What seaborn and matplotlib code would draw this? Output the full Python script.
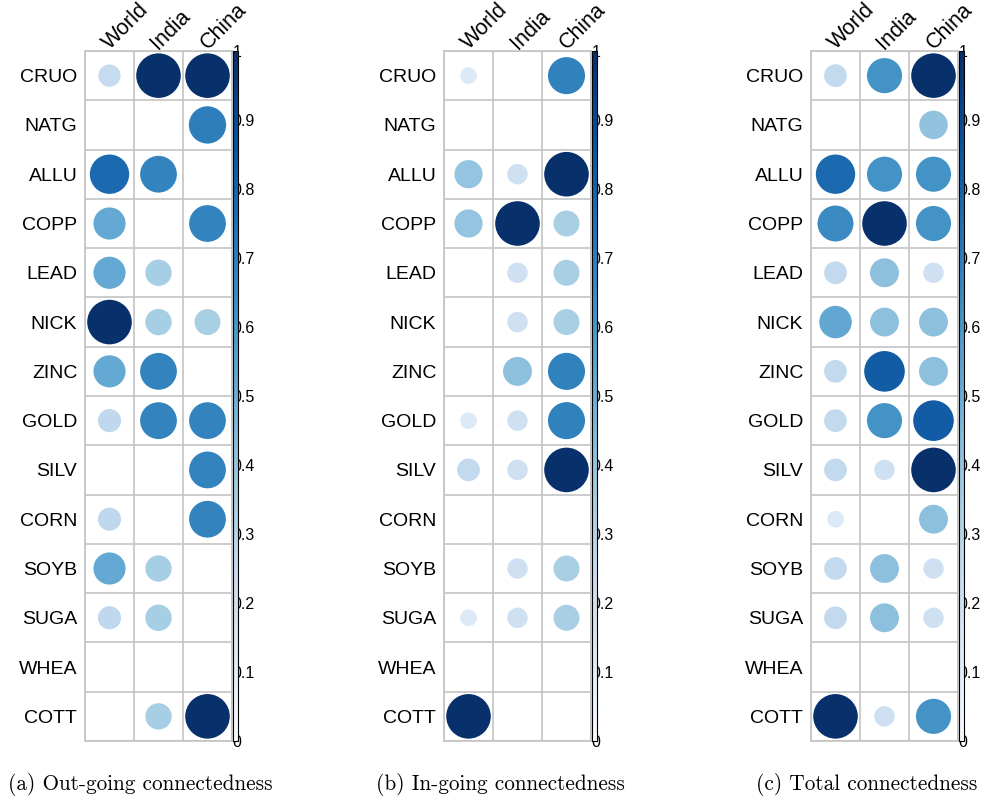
import numpy as np
import pandas as pd
import matplotlib
matplotlib.use('Agg')
import matplotlib.pyplot as plt
import matplotlib.transforms as mtransforms
import seaborn as sns

sns.set_style('white')
plt.rcParams['font.family'] = ['Liberation Sans', 'DejaVu Sans']
plt.rcParams['text.color'] = 'black'
plt.rcParams['xtick.color'] = 'black'
plt.rcParams['ytick.color'] = 'black'

# Категории
rows = ['CRUO', 'NATG', 'ALLU', 'COPP', 'LEAD', 'NICK', 'ZINC',
        'GOLD', 'SILV', 'CORN', 'SOYB', 'SUGA', 'WHEA', 'COTT']
cols = ['World', 'India', 'China']

# (a) исходящая связанность
out_world = [0.25, 0, 0.78, 0.52, 0.52, 1.0, 0.52, 0.27, 0, 0.27, 0.52, 0.27, 0, 0]
out_india = [1.0, 0, 0.68, 0, 0.35, 0.35, 0.68, 0.68, 0, 0, 0.35, 0.35, 0, 0.35]
out_china = [1.0, 0.70, 0, 0.68, 0, 0.34, 0, 0.68, 0.68, 0.68, 0, 0, 0, 1.0]

# (b) входящая связанность
in_world = [0.14, 0, 0.40, 0.40, 0, 0, 0, 0.14, 0.26, 0, 0, 0.14, 0, 1.0]
in_india = [0, 0, 0.21, 1.0, 0.21, 0.21, 0.42, 0.21, 0.21, 0, 0.21, 0.21, 0, 0]
in_china = [0.69, 0, 1.0, 0.34, 0.34, 0.34, 0.69, 0.69, 1.0, 0, 0.34, 0.34, 0, 0]

# (c) общая связанность
tot_world = [0.26, 0, 0.78, 0.65, 0.26, 0.53, 0.26, 0.26, 0.26, 0.14, 0.26, 0.26, 0, 1.0]
tot_india = [0.62, 0, 0.62, 1.0, 0.42, 0.42, 0.83, 0.62, 0.21, 0, 0.42, 0.42, 0, 0.21]
tot_china = [1.0, 0.41, 0.62, 0.62, 0.21, 0.42, 0.42, 0.83, 1.0, 0.42, 0.21, 0.21, 0, 0.62]

captions = ['(a) Out-going connectedness', '(b) In-going connectedness', '(c) Total connectedness']
panels = [(out_world, out_india, out_china),
          (in_world, in_india, in_china),
          (tot_world, tot_india, tot_china)]

cbar_ticks = [0, 0.1, 0.2, 0.3, 0.4, 0.5, 0.6, 0.7, 0.8, 0.9, 1]
cbar_labels = ['0', '0.1', '0.2', '0.3', '0.4', '0.5', '0.6', '0.7', '0.8', '0.9', '1']

W, H = 981, 797
fig = plt.figure(figsize=(W / 100, H / 100), dpi=100)

lefts = [85, 444, 811]
grid_w, top, bottom = 147, 51, 741
cmap = plt.get_cmap('Blues')
shift = mtransforms.ScaledTranslation(-1.5 / 100, -2 / 100, fig.dpi_scale_trans)

for left, vals, cap, cx in zip(lefts, panels, captions, [140, 500, 867]):
    ax = fig.add_axes([left / W, (H - bottom) / H, grid_w / W, (bottom - top) / H])
    df = pd.DataFrame({'row': rows * 3,
                       'col': np.repeat(cols, len(rows)),
                       'value': np.concatenate(vals)})
    df['x'] = df['col'].map(cols.index)
    df['y'] = df['row'].map(rows.index)
    sns.scatterplot(data=df, x='x', y='y', hue='value', size='value',
                    palette='Blues', hue_norm=(0, 1), sizes=(0, 1030), size_norm=(0, 1),
                    linewidth=0, legend=False, ax=ax, zorder=3)
    ax.set_xlim(-0.5, 2.5)
    ax.set_ylim(13.5, -0.5)
    ax.xaxis.tick_top()
    ax.set_xticks(range(3))
    ax.set_xticklabels(cols, rotation=45, ha='left', va='baseline',
                       rotation_mode='anchor', fontsize=15.5)
    for lab in ax.get_xticklabels():
        lab.set_transform(lab.get_transform() + shift)
    ax.set_yticks(range(len(rows)))
    ax.set_yticklabels(rows, fontsize=14)
    ax.set_xticks(np.arange(-0.5, 3), minor=True)
    ax.set_yticks(np.arange(-0.5, 14), minor=True)
    ax.grid(which='minor', color='#c4c4c4', linewidth=1.2)
    ax.grid(which='major', visible=False)
    ax.tick_params(which='both', length=0)
    ax.tick_params(axis='y', pad=5.5)
    ax.tick_params(axis='x', pad=1)
    ax.set_xlabel('')
    ax.set_ylabel('')
    for s in ax.spines.values():
        s.set_color('#c4c4c4')
        s.set_linewidth(1.2)

    # Цветовая шкала справа от сетки
    cax = fig.add_axes([(left + grid_w + 1) / W, (H - bottom) / H, 5 / W, (bottom - top) / H])
    sm = matplotlib.cm.ScalarMappable(norm=plt.Normalize(0, 1), cmap=cmap)
    cb = fig.colorbar(sm, cax=cax)
    cb.set_ticks(cbar_ticks)
    cb.set_ticklabels(cbar_labels)
    cb.outline.set_edgecolor('black')
    cb.outline.set_linewidth(0.8)
    cax.tick_params(length=0, pad=-4, labelsize=11.5)

    fig.text(cx / W, (H - 784) / H, cap, ha='center', va='center', fontsize=15.3,
             family=['cmr10', 'DejaVu Serif'])

fig.savefig('out.png', dpi=100)
